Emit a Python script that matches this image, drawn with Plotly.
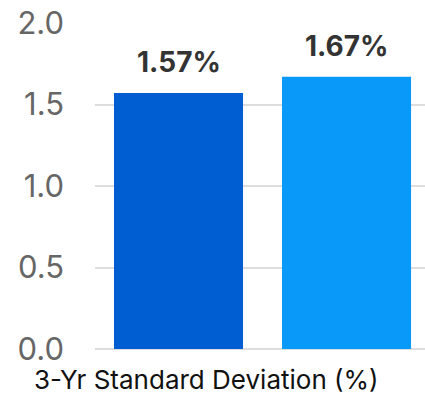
import plotly.graph_objects as go

categories = ["A", "B"]
values = [1.57, 1.67]
labels = ["1.57%", "1.67%"]
colors = ["#005ed2", "#0899f9"]
y_ticks = [0.0, 0.5, 1.0, 1.5, 2.0]
x_title = "3-Yr Standard Deviation (%)"

fig = go.Figure()
fig.add_trace(go.Bar(
    x=[0, 1], y=values, marker=dict(color=colors, line=dict(width=0)),
    width=0.768, hoverinfo="skip",
))
ann = [dict(text=t, x=i, y=v, xref="x", yref="y", xanchor="center", yanchor="bottom",
            yshift=12, showarrow=False,
            font=dict(family="Inter", size=28, color="#333333", weight="bold"))
       for i, (t, v) in enumerate(zip(labels, values))]
ann.append(dict(text=x_title, xref="x", yref="paper", x=0.165, y=-0.04,
                xanchor="center", yanchor="top", showarrow=False,
                font=dict(family="Inter", size=26, color="#111111")))
fig.update_layout(
    width=425, height=394, margin=dict(l=95, r=0, t=23, b=45),
    plot_bgcolor="white", paper_bgcolor="white", showlegend=False,
    font=dict(family="Inter"),
    xaxis=dict(range=[-0.497, 1.467], showticklabels=False, showgrid=False,
               zeroline=False, showline=False, ticks=""),
    yaxis=dict(range=[0, 2.0], tickvals=y_ticks, ticktext=[f"{v:.1f}" for v in y_ticks],
               showgrid=True, gridcolor="#dddddd", gridwidth=1.5, zeroline=True,
               zerolinecolor="#dddddd", zerolinewidth=1.5,
               tickfont=dict(family="Inter", size=31, color="#666666"),
               ticklabelstandoff=30, showline=False),
    annotations=ann,
)
fig.write_html("out.html")
